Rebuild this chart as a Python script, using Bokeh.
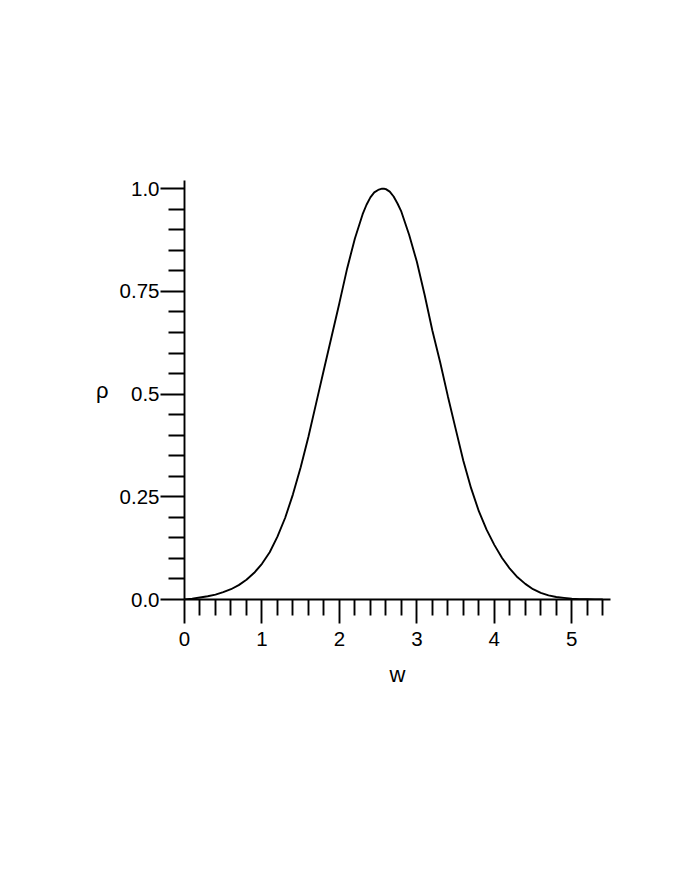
from bokeh.plotting import figure
from bokeh.models import FixedTicker, Range1d
from bokeh.embed import file_html
from bokeh.resources import INLINE

# curve
w = [0.0, 0.1, 0.2, 0.3, 0.4, 0.5, 0.6, 0.7, 0.8, 0.9,
     1.0, 1.1, 1.2, 1.3, 1.4, 1.5, 1.6, 1.7, 1.8, 1.9,
     2.0, 2.1, 2.2, 2.3, 2.35, 2.4, 2.45, 2.5, 2.55, 2.575, 2.6, 2.65, 2.7, 2.75, 2.8, 2.9,
     3.0, 3.1, 3.2, 3.3, 3.4, 3.5, 3.6, 3.7, 3.8, 3.9,
     4.0, 4.1, 4.2, 4.3, 4.4, 4.5, 4.6, 4.7, 4.8, 4.9,
     5.0, 5.1, 5.2, 5.3, 5.4]
rho = [0.000, 0.002, 0.005, 0.008, 0.012, 0.018, 0.025, 0.035, 0.048, 0.065,
       0.087, 0.115, 0.153, 0.199, 0.256, 0.322, 0.396, 0.478, 0.560, 0.641,
       0.722, 0.806, 0.879, 0.938, 0.961, 0.979, 0.991, 0.997, 1.000, 1.000, 0.999, 0.993, 0.981, 0.964, 0.944, 0.888,
       0.822, 0.742, 0.655, 0.578, 0.495, 0.416, 0.338, 0.271, 0.215, 0.170,
       0.133, 0.101, 0.075, 0.054, 0.038, 0.025, 0.016, 0.010, 0.006, 0.004,
       0.002, 0.001, 0.001, 0.000, 0.000]

x_major = [0, 1, 2, 3, 4, 5]
x_minor = [0.2, 0.4, 0.6, 0.8, 1.2, 1.4, 1.6, 1.8, 2.2, 2.4, 2.6, 2.8,
           3.2, 3.4, 3.6, 3.8, 4.2, 4.4, 4.6, 4.8, 5.2, 5.4]
y_major = [0.0, 0.25, 0.5, 0.75, 1.0]
y_labels = ["0.0", "0.25", "0.5", "0.75", "1.0"]
y_minor = [0.05, 0.1, 0.15, 0.2, 0.3, 0.35, 0.4, 0.45, 0.55, 0.6, 0.65, 0.7,
           0.8, 0.85, 0.9, 0.95]

FONT = "Liberation Sans"

p = figure(frame_width=426, frame_height=419,
           min_border_left=184, min_border_top=180,
           min_border_right=66, min_border_bottom=281,
           x_range=Range1d(0, 5.5), y_range=Range1d(0, 1.02),
           output_backend="svg", toolbar_location=None)
p.outline_line_color = None
p.grid.visible = False
p.background_fill_color = "white"
p.border_fill_color = "white"

p.line(w, rho, line_color="black", line_width=1.9)

for ax in (p.xaxis[0], p.yaxis[0]):
    ax.axis_line_color = "black"
    ax.axis_line_width = 1.9
    ax.major_tick_line_color = "black"
    ax.major_tick_line_width = 1.9
    ax.minor_tick_line_color = "black"
    ax.minor_tick_line_width = 1.9
    ax.major_tick_in = 0
    ax.major_tick_out = 24
    ax.minor_tick_in = 0
    ax.minor_tick_out = 16
    ax.major_label_text_font = FONT
    ax.major_label_text_font_size = "20.5px"
    ax.major_label_text_color = "black"
    ax.axis_label_text_font = FONT
    ax.axis_label_text_font_style = "normal"
    ax.axis_label_text_font_size = "22px"
    ax.axis_label_text_color = "black"

p.xaxis[0].ticker = FixedTicker(ticks=x_major, minor_ticks=x_minor)
p.yaxis[0].ticker = FixedTicker(ticks=y_major, minor_ticks=y_minor)
p.yaxis[0].major_label_overrides = {v: s for v, s in zip(y_major, y_labels)}

p.xaxis[0].axis_label = "w"
p.xaxis[0].major_label_standoff = 8
p.xaxis[0].axis_label_standoff = 13

p.yaxis[0].axis_label = "ρ"
p.yaxis[0].axis_label_orientation = "horizontal"
p.yaxis[0].major_label_standoff = 1
p.yaxis[0].axis_label_standoff = 8

open("out.html", "w").write(file_html(p, INLINE))
